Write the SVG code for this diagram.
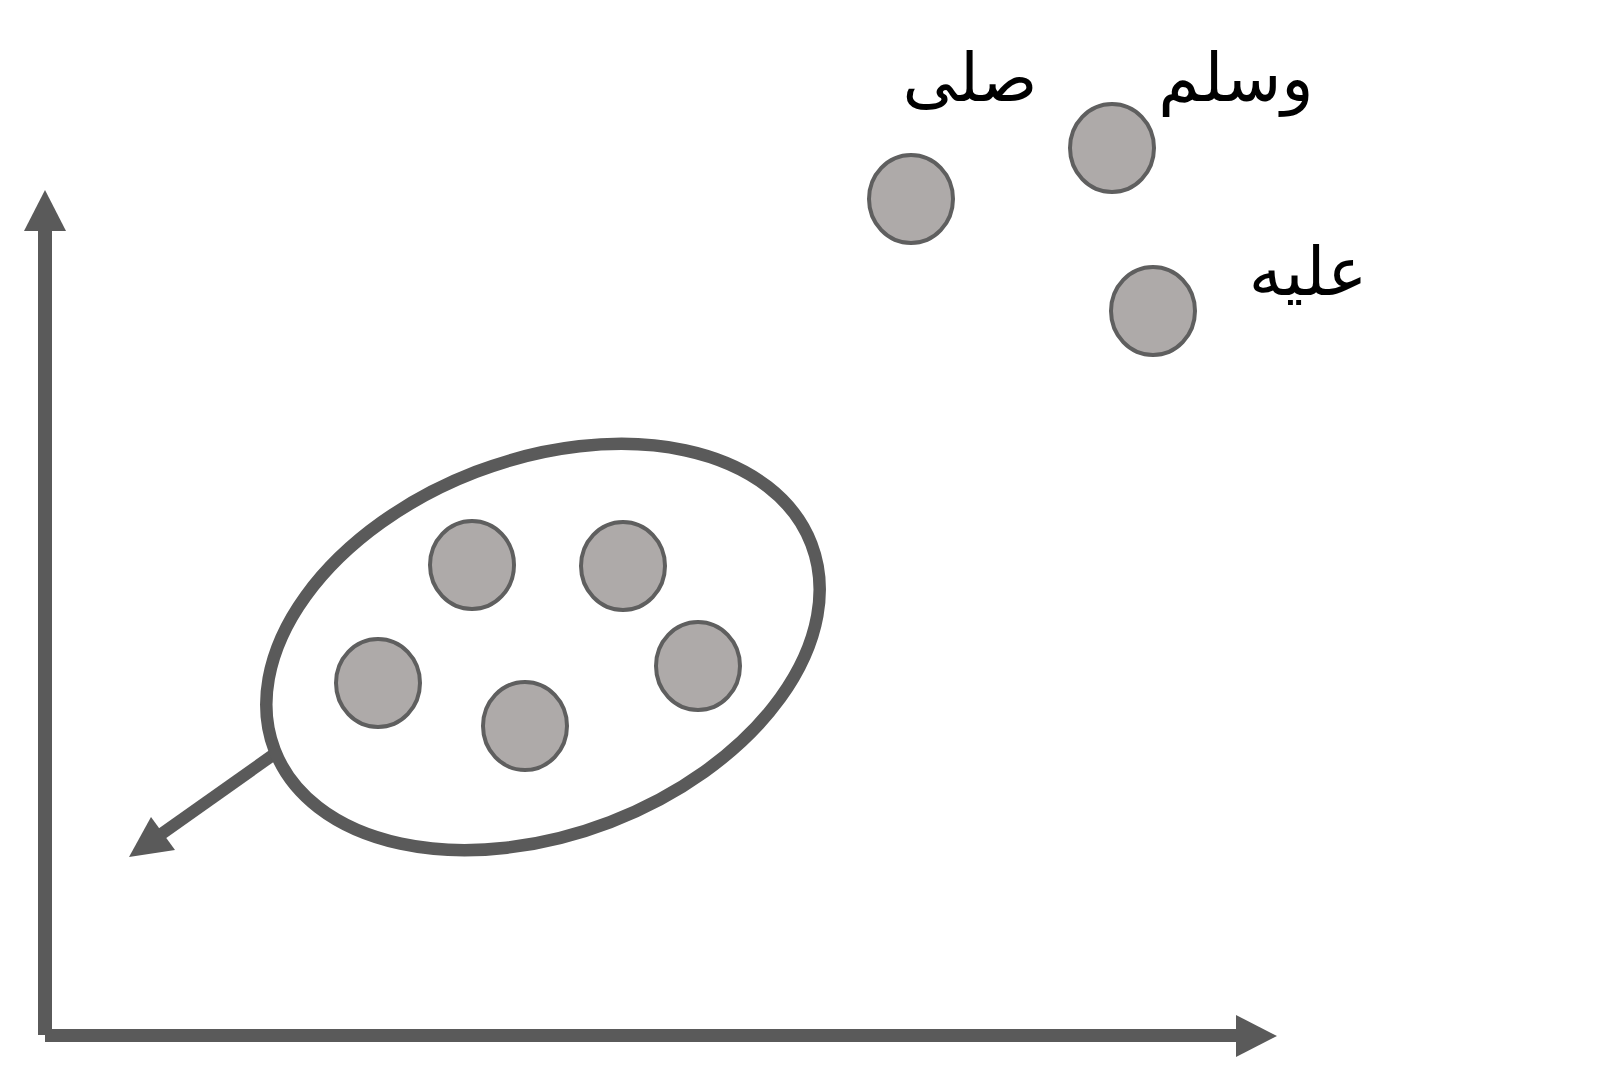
<svg xmlns="http://www.w3.org/2000/svg" width="1617" height="1081" viewBox="0 0 1617 1081">
<style>
.pt{fill:#aeaaa9;stroke:#5f5f5f;stroke-width:4}
.ax{fill:#5a5a5a}
.lbl{font-family:"DejaVu Sans",sans-serif;font-size:67px;fill:#000;text-anchor:middle}
</style>
<rect width="1617" height="1081" fill="#fff"/>
<g id="connectors">
<g id="y-axis"><rect class="ax" x="38" y="225" width="14" height="810"/><polygon class="ax" points="24,231 66,231 45,190"/></g>
<g id="x-axis"><rect class="ax" x="45" y="1029" width="1195" height="13"/><polygon class="ax" points="1236,1015 1236,1057 1277,1036"/></g>
<g id="cluster-arrow"><line x1="273" y1="755" x2="160" y2="835" stroke="#5a5a5a" stroke-width="12"/><polygon class="ax" points="129,857 151,817 175,850"/></g>
</g>
<g id="cluster"><ellipse cx="543" cy="647" rx="287.5" ry="187.5" transform="rotate(-21 543 647)" fill="none" stroke="#5a5a5a" stroke-width="12.5"/></g>
<g id="n1"><ellipse class="pt" cx="472" cy="565" rx="42" ry="44"/></g>
<g id="n2"><ellipse class="pt" cx="623" cy="566" rx="42" ry="44"/></g>
<g id="n3"><ellipse class="pt" cx="378" cy="683" rx="42" ry="44"/></g>
<g id="n4"><ellipse class="pt" cx="525" cy="726" rx="42" ry="44"/></g>
<g id="n5"><ellipse class="pt" cx="698" cy="666" rx="42" ry="44"/></g>
<g id="n6"><ellipse class="pt" cx="911" cy="199" rx="42" ry="44"/></g>
<g id="n7"><ellipse class="pt" cx="1112" cy="148" rx="42" ry="44"/></g>
<g id="n8"><ellipse class="pt" cx="1153" cy="311" rx="42" ry="44"/></g>
<g id="labels">
<text class="lbl" x="970" y="101">صلى</text>
<text class="lbl" x="1236" y="101">وسلم</text>
<text class="lbl" x="1308" y="295">عليه</text>
</g>
</svg>
